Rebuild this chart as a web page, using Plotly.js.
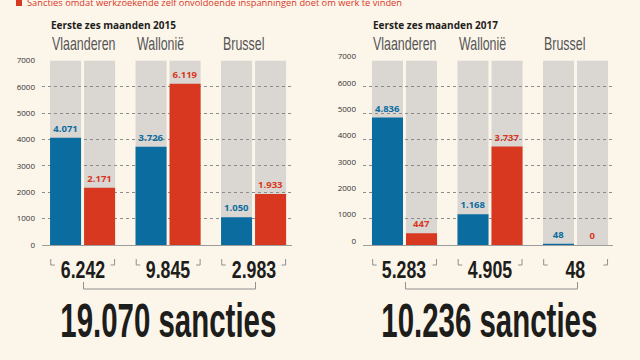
<!DOCTYPE html>
<html><head><meta charset="utf-8">
<script src="https://cdn.plot.ly/plotly-3.0.1.min.js"></script>
<style>html,body{margin:0;padding:0;background:#fcf5ea;}#chart{width:640px;height:360px;}</style>
</head><body><div id="chart"></div>
<script>
// ---- data ----
const regions = ['Vlaanderen', 'Wallonië', 'Brussel'];
const blue2015 = [4071, 3726, 1050];
const red2015 = [2171, 6119, 1933];
const blue2017 = [4836, 1168, 48];
const red2017 = [447, 3737, 0];
const scaleMax = [7000, 7000, 7000];
const yTicks = [0, 1000, 2000, 3000, 4000, 5000, 6000, 7000];
const panelTitles = ['Eerste zes maanden 2015', 'Eerste zes maanden 2017'];
const legendText = 'Sancties omdat werkzoekende zelf onvoldoende inspanningen doet om werk te vinden';
const unitWord = 'sancties';

// ---- styling ----
const W = 640, H = 360;
const px = x => x / W, py = y => 1 - y / H;
const BG = '#fcf5ea', BLUE = '#0b6d9f', RED = '#d8381f', GREY = '#dad7d3', LINE = '#8f8f8f';
const BW = 0.363, OFF_B = -0.38, OFF_R = 0.018;
const SANS = '"Open Sans", "DejaVu Sans", sans-serif';
const COND = '"Liberation Sans", Arial, sans-serif';
const HEAD_SX = 0.69, SUB_SX = 0.74, BIG_SX = 0.62;
const K = 85.5; // px per category unit
function fmt(n) { return String(n).replace(/\B(?=(\d{3})+(?!\d))/g, '.'); }
const yDom = [115 / H, 299.5 / H];

const panels = [
  {blue: blue2015, red: red2015, title: panelTitles[0], bx: 'x', by: 'y', dom: [42, 292], range: [-0.474, 2.45], titleX: 49, tshift: 0},
  {blue: blue2017, red: red2017, title: panelTitles[1], bx: 'x2', by: 'y2', dom: [363, 613], range: [-0.485, 2.439], titleX: 371, tshift: -4}
];

const traces = [];
const layout = {
  width: W, height: H, margin: {l: 0, r: 0, t: 0, b: 0},
  paper_bgcolor: BG, plot_bgcolor: 'rgba(0,0,0,0)',
  showlegend: false, barmode: 'overlay', separators: ',.',
  annotations: [], shapes: []
};
const stretch = [];
function addAnn(a, sx) { layout.annotations.push(a); stretch.push(sx || 1); }

panels.forEach((p, i) => {
  const n = i === 0 ? '' : '2';
  const fn = i === 0 ? '3' : '4';
  // grey backgrounds
  [OFF_B, OFF_R].forEach(off => traces.push({
    type: 'bar', x: regions, y: scaleMax, xaxis: p.bx, yaxis: p.by,
    width: BW, offset: off, marker: {color: GREY, line: {width: 0}}, hoverinfo: 'skip'
  }));
  // values (separate subplot drawn on top so grid lies between grey and coloured bars)
  [[p.blue, BLUE, OFF_B], [p.red, RED, OFF_R]].forEach(([vals, col, off]) => traces.push({
    type: 'bar', x: regions, y: vals, xaxis: 'x' + fn, yaxis: 'y' + fn,
    width: BW, offset: off, marker: {color: col, line: {width: 0}},
    texttemplate: '%{y:,}', textposition: 'outside', cliponaxis: false,
    textfont: {family: SANS, size: 9.5, color: col, weight: 700}, hoverinfo: 'skip'
  }));
  const xd = [px(p.dom[0]), px(p.dom[1])];
  layout['xaxis' + n] = {domain: xd, range: p.range, anchor: 'y' + n, showticklabels: false, showgrid: false, zeroline: false, fixedrange: true};
  layout['yaxis' + n] = {domain: yDom, range: [0, 7000], anchor: 'x' + n, showticklabels: false, showgrid: false, zeroline: false, fixedrange: true};
  layout['xaxis' + fn] = {domain: xd, range: p.range, anchor: 'y' + fn, showticklabels: false, showgrid: false, zeroline: false,
    showline: true, linecolor: '#9d9d9d', linewidth: 1, fixedrange: true};
  layout['yaxis' + fn] = {domain: yDom, range: [0, 7000], anchor: 'x' + fn, tickvals: yTicks, tickformat: 'd',
    showgrid: true, gridcolor: '#8c8c8c', gridwidth: 1, griddash: 'dot', zeroline: false, ticks: '',
    ticklabelstandoff: 6, ticklabelshift: p.tshift,
    tickfont: {family: SANS, size: 8, color: '#333'}, fixedrange: true};

  // panel title
  addAnn({xref: 'paper', yref: 'paper', x: px(p.titleX), y: py(25.5), xanchor: 'left', yanchor: 'middle',
    text: '<b>' + p.title + '</b>', showarrow: false, font: {family: SANS, size: 10, color: '#1d1d1b'}});
  // region headers, subtotals, brackets
  regions.forEach((r, j) => {
    addAnn({xref: p.bx, yref: 'paper', x: r, xshift: -33, y: py(43.5), xanchor: 'left', yanchor: 'middle',
      text: r, showarrow: false, font: {family: COND, size: 18, color: '#555555'}}, HEAD_SX);
    const sub = p.blue[j] + p.red[j];
    addAnn({xref: p.bx, yref: 'paper', x: r, y: py(269), xanchor: 'center', yanchor: 'middle',
      text: '<b>' + fmt(sub) + '</b>', showarrow: false, font: {family: COND, size: 24, color: '#1d1d1b'}}, SUB_SX);
    const xl = j + OFF_B + 0.7 / K, xr = j + OFF_R + BW - 0.5 / K, tk = 4 / K;
    const ln = {color: LINE, width: 1};
    layout.shapes.push(
      {type: 'line', xref: p.bx, yref: 'paper', x0: xl, x1: xl, y0: py(259), y1: py(265), line: ln},
      {type: 'line', xref: p.bx, yref: 'paper', x0: xl, x1: xl + tk, y0: py(265), y1: py(265), line: ln},
      {type: 'line', xref: p.bx, yref: 'paper', x0: xr, x1: xr, y0: py(259), y1: py(265), line: ln},
      {type: 'line', xref: p.bx, yref: 'paper', x0: xr - tk, x1: xr, y0: py(265), y1: py(265), line: ln}
    );
  });
  // big bracket
  const ln = {color: LINE, width: 1};
  const a = 0 + 1 / K, b = 2 + 2 / K;
  layout.shapes.push(
    {type: 'line', xref: p.bx, yref: 'paper', x0: a, x1: a, y0: py(282), y1: py(289), line: ln},
    {type: 'line', xref: p.bx, yref: 'paper', x0: a, x1: b, y0: py(289), y1: py(289), line: ln},
    {type: 'line', xref: p.bx, yref: 'paper', x0: b, x1: b, y0: py(282), y1: py(289), line: ln}
  );
  const total = p.blue.reduce((s, v) => s + v, 0) + p.red.reduce((s, v) => s + v, 0);
  addAnn({xref: p.bx, yref: 'paper', x: regions[1], y: py(320.5), xanchor: 'center', yanchor: 'middle',
    text: '<b>' + fmt(total) + ' ' + unitWord + '</b>', showarrow: false, font: {family: COND, size: 47.5, color: '#1d1d1b'}}, BIG_SX);
});

// top legend
layout.shapes.push({type: 'rect', xref: 'paper', yref: 'paper', x0: px(16), x1: px(22), y0: py(6), y1: py(-2), fillcolor: RED, line: {width: 0}});
addAnn({xref: 'paper', yref: 'paper', x: px(25), y: py(2.5), xanchor: 'left', yanchor: 'middle',
  text: legendText, showarrow: false, font: {family: SANS, size: 9.3, color: RED}});

Plotly.newPlot('chart', traces, layout, {staticPlot: true, displayModeBar: false}).then(gd => {
  // compress condensed display texts horizontally
  gd.querySelectorAll('g.annotation').forEach(g => {
    const idx = +g.getAttribute('data-index');
    const sx = stretch[idx];
    if (!sx || sx === 1) return;
    const t = g.querySelector('text.annotation-text');
    if (!t) return;
    const bb = t.getBBox();
    const ox = layout.annotations[idx].xanchor === 'left' ? bb.x : bb.x + bb.width / 2;
    t.setAttribute('transform', 'translate(' + ox + ' 0) scale(' + sx + ' 1) translate(' + (-ox) + ' 0)');
  });
});
</script>
</body></html>
